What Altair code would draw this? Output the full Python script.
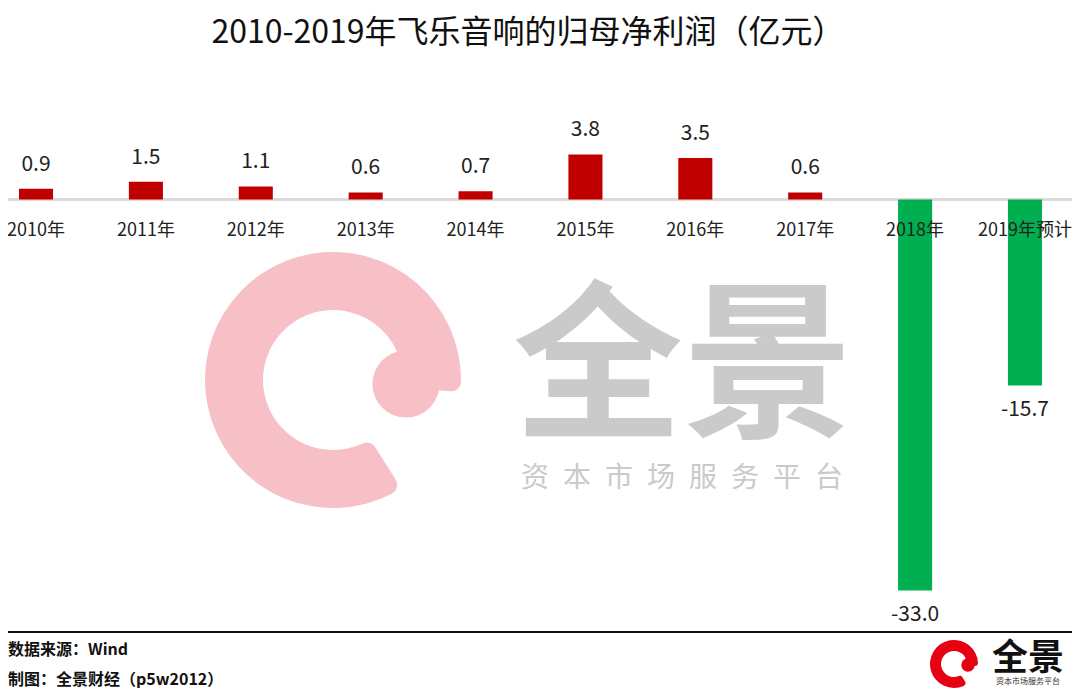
import altair as alt
import pandas as pd

# ---- data ----
years = ["2010年", "2011年", "2012年", "2013年", "2014年",
         "2015年", "2016年", "2017年", "2018年", "2019年预计"]
profits = [0.9, 1.5, 1.1, 0.6, 0.7, 3.8, 3.5, 0.6, -33.0, -15.7]
value_labels = ["0.9", "1.5", "1.1", "0.6", "0.7", "3.8", "3.5", "0.6", "-33.0", "-15.7"]

title_text = "2010-2019年飞乐音响的归母净利润（亿元）"
source_text = "数据来源：Wind"
maker_text = "制图：全景财经（p5w2012）"
brand_text = "全景"
brand_sub = "资本市场服务平台"

df = pd.DataFrame({"year": years, "profit": profits, "label": value_labels})
df["zero"] = 0.0
one = pd.DataFrame({"k": [0]})

FONT = "Noto Sans CJK SC"
W, H = 1045, 680

xenc = alt.X("year:N", sort=years, axis=None,
             scale=alt.Scale(paddingInner=0.69, paddingOuter=0.1))
yscale = alt.Scale(domain=[-41.224, 16.160], nice=False, zero=False)

base = alt.Chart(df)

# ---- watermark (behind everything) ----
wm_arc = alt.Chart(one).mark_arc(
    theta=2.58, theta2=7.95, radius=128, radius2=70, color="#F6C0C6", cornerRadius=10
).encode(x=alt.value(325), y=alt.value(372))
wm_blob = alt.Chart(one).mark_circle(size=4500, color="#F6C0C6", opacity=1).encode(
    x=alt.value(398), y=alt.value(376))
wm_text = alt.Chart(one).mark_text(
    text=brand_text, font=FONT, fontSize=170, fontWeight="bold", color="#CACACA",
    align="center", baseline="middle"
).encode(x=alt.value(675), y=alt.value(366))
wm_sub = alt.Chart(one).mark_text(
    text="\u2002".join(list(brand_sub)), font=FONT, fontSize=28, color="#CACACA",
    align="center", baseline="middle"
).encode(x=alt.value(674), y=alt.value(471))

# ---- chart body ----
zero_rule = base.mark_rule(color="#D9D9D9", strokeWidth=1.5).encode(
    y=alt.Y("zero:Q", scale=yscale, axis=None), x=alt.value(0), x2=alt.value(1064))

bars = base.mark_bar().encode(
    x=xenc,
    y=alt.Y("profit:Q", scale=yscale, axis=None),
    y2=alt.Y2("zero"),
    color=alt.condition("datum.profit >= 0", alt.value("#C00000"), alt.value("#00B050")),
)

pos_labels = base.transform_filter("datum.profit >= 0").mark_text(
    dy=-24, baseline="middle", align="center", fontSize=21, font=FONT, color="#222222"
).encode(x=xenc, y=alt.Y("profit:Q", scale=yscale, axis=None), text="label:N")

neg_labels = base.transform_filter("datum.profit < 0").mark_text(
    dy=24, baseline="middle", align="center", fontSize=21, font=FONT, color="#222222"
).encode(x=xenc, y=alt.Y("profit:Q", scale=yscale, axis=None), text="label:N")

cat_labels = base.mark_text(
    dy=31.5, baseline="middle", align="center", fontSize=18, font=FONT, color="#222222"
).encode(x=xenc, y=alt.Y("zero:Q", scale=yscale, axis=None), text="year:N")

# ---- title and footer ----
title = alt.Chart(one).mark_text(
    text=title_text, font=FONT, fontSize=32, color="#111111", align="center", baseline="middle"
).encode(x=alt.value(520), y=alt.value(25))

footer_rule = alt.Chart(one).mark_rule(color="#111111", strokeWidth=2).encode(
    x=alt.value(0), x2=alt.value(1064), y=alt.value(624))
source = alt.Chart(one).mark_text(
    text=source_text, font=FONT, fontSize=16, fontWeight="bold", color="#111111",
    align="left", baseline="middle"
).encode(x=alt.value(0), y=alt.value(642))
maker = alt.Chart(one).mark_text(
    text=maker_text, font=FONT, fontSize=16, fontWeight="bold", color="#111111",
    align="left", baseline="middle"
).encode(x=alt.value(0), y=alt.value(672))

# small logo bottom-right
logo_arc = alt.Chart(one).mark_arc(
    theta=2.58, theta2=7.95, radius=24, radius2=13, color="#E60012", cornerRadius=3
).encode(x=alt.value(946), y=alt.value(656))
logo_blob = alt.Chart(one).mark_circle(size=180, color="#E60012", opacity=1).encode(
    x=alt.value(960), y=alt.value(657))
logo_text = alt.Chart(one).mark_text(
    text=brand_text, font=FONT, fontSize=36, fontWeight="bold", color="#111111",
    align="center", baseline="middle"
).encode(x=alt.value(1020), y=alt.value(651))
logo_sub = alt.Chart(one).mark_text(
    text=brand_sub, font=FONT, fontSize=8, color="#333333", align="center", baseline="middle"
).encode(x=alt.value(1020), y=alt.value(674))

chart = alt.layer(
    wm_arc, wm_blob, wm_text, wm_sub,
    zero_rule, bars, pos_labels, neg_labels, cat_labels,
    title, footer_rule, source, maker,
    logo_arc, logo_blob, logo_text, logo_sub,
).properties(
    width=W, height=H,
    autosize=alt.AutoSizeParams(type="none"),
    padding={"left": 0, "top": 0, "right": 19, "bottom": 0},
).configure_view(stroke=None)

chart.save("out.html", embed_options={"renderer": "svg", "actions": False})
